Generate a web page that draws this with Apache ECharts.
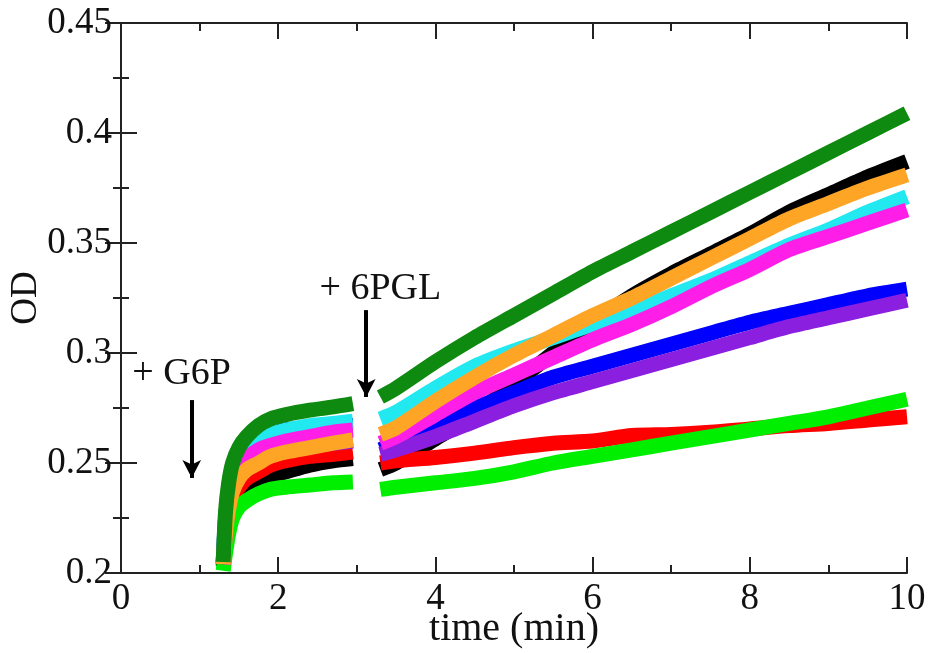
<!DOCTYPE html>
<html>
<head>
<meta charset="utf-8">
<script src="https://cdn.jsdelivr.net/npm/echarts@6/dist/echarts.min.js"></script>
<style>
html,body{margin:0;padding:0;background:#fff;}
#chart{width:930px;height:653px;}
</style>
</head>
<body>
<div id="chart"></div>
<script>
// ---- data ----
const seg1Time = [1.3, 1.33, 1.37, 1.42, 1.5, 1.6, 1.75, 1.9, 2.1, 2.4, 2.7, 2.95];
const seg2Time = [3.3, 3.5, 4.0, 4.5, 5.0, 5.5, 6.0, 6.5, 7.0, 7.5, 8.0, 8.5, 9.0, 9.5, 10.0];

const blackSeg1   = [0.203, 0.214, 0.224, 0.231, 0.236, 0.239, 0.242, 0.244, 0.246, 0.249, 0.251, 0.252];
const blackSeg2   = [0.247, 0.250, 0.261, 0.272, 0.286, 0.300, 0.314, 0.326, 0.336, 0.345, 0.354, 0.364, 0.372, 0.380, 0.387];
const redSeg1     = [0.204, 0.216, 0.226, 0.234, 0.239, 0.243, 0.246, 0.249, 0.251, 0.253, 0.254, 0.255];
const redSeg2     = [0.250, 0.251, 0.2525, 0.2545, 0.257, 0.259, 0.260, 0.2625, 0.263, 0.264, 0.2655, 0.267, 0.268, 0.2695, 0.271];
const greenSeg1   = [0.201, 0.209, 0.218, 0.225, 0.230, 0.233, 0.236, 0.238, 0.239, 0.240, 0.241, 0.2414];
const greenSeg2   = [0.238, 0.239, 0.241, 0.243, 0.246, 0.250, 0.253, 0.256, 0.259, 0.262, 0.265, 0.268, 0.271, 0.275, 0.279];
const blueSeg1    = [0.205, 0.225, 0.237, 0.246, 0.253, 0.257, 0.261, 0.263, 0.265, 0.266, 0.267, 0.267];
const blueSeg2    = [0.256, 0.259, 0.267, 0.275, 0.282, 0.289, 0.294, 0.299, 0.304, 0.309, 0.314, 0.318, 0.322, 0.326, 0.329];
const violetSeg1  = [0.204, 0.219, 0.230, 0.239, 0.245, 0.249, 0.252, 0.254, 0.256, 0.258, 0.259, 0.260];
const violetSeg2  = [0.254, 0.256, 0.262, 0.269, 0.276, 0.282, 0.287, 0.292, 0.297, 0.302, 0.307, 0.312, 0.316, 0.320, 0.324];
const cyanSeg1    = [0.205, 0.224, 0.236, 0.245, 0.252, 0.256, 0.260, 0.263, 0.265, 0.267, 0.268, 0.269];
const cyanSeg2    = [0.270, 0.273, 0.284, 0.294, 0.301, 0.307, 0.313, 0.319, 0.326, 0.333, 0.341, 0.349, 0.356, 0.364, 0.371];
const magentaSeg1 = [0.204, 0.221, 0.232, 0.241, 0.248, 0.252, 0.256, 0.258, 0.260, 0.262, 0.264, 0.265];
const magentaSeg2 = [0.259, 0.262, 0.272, 0.282, 0.290, 0.298, 0.306, 0.313, 0.321, 0.330, 0.338, 0.347, 0.353, 0.359, 0.365];
const orangeSeg1  = [0.204, 0.218, 0.229, 0.237, 0.243, 0.247, 0.250, 0.253, 0.255, 0.257, 0.259, 0.2605];
const orangeSeg2  = [0.263, 0.266, 0.278, 0.289, 0.299, 0.308, 0.317, 0.325, 0.334, 0.343, 0.352, 0.361, 0.368, 0.375, 0.381];
const green4Seg1  = [0.205, 0.228, 0.241, 0.250, 0.257, 0.262, 0.267, 0.270, 0.272, 0.274, 0.2755, 0.277];
const green4Seg2  = [0.280, 0.284, 0.296, 0.307, 0.317, 0.327, 0.337, 0.346, 0.355, 0.364, 0.373, 0.382, 0.391, 0.400, 0.409];

const xTicks = [0, 2, 4, 6, 8, 10];
const yTicks = [0.2, 0.25, 0.3, 0.35, 0.4, 0.45];

// annotations: [label, x of arrow, arrow top, arrow tip, label x, label y]
const annotG6P  = ['+ G6P', 0.9, 0.2786, 0.2432, 0.77, 0.2905];
const annot6PGL = ['+ 6PGL', 3.12, 0.3195, 0.2800, 3.30, 0.329];

// ---- styling ----
const seriesList = [
  {name: 'black',   color: '#000000', s1: blackSeg1,   s2: blackSeg2},
  {name: 'red',     color: '#ff0000', s1: redSeg1,     s2: redSeg2},
  {name: 'green',   color: '#00ee00', s1: greenSeg1,   s2: greenSeg2},
  {name: 'blue',    color: '#0000ff', s1: blueSeg1,    s2: blueSeg2},
  {name: 'violet',  color: '#8a1fe0', s1: violetSeg1,  s2: violetSeg2},
  {name: 'cyan',    color: '#22e8f0', s1: cyanSeg1,    s2: cyanSeg2},
  {name: 'magenta', color: '#ff1ee8', s1: magentaSeg1, s2: magentaSeg2},
  {name: 'orange',  color: '#ffa526', s1: orangeSeg1,  s2: orangeSeg2},
  {name: 'green4',  color: '#0f8a10', s1: green4Seg1,  s2: green4Seg2}
];

const FONT = 'Liberation Serif';
const FS = 37;

function pairs(t, v) { return t.map((x, i) => [x, v[i]]); }

const series = [];
seriesList.forEach(s => {
  [pairs(seg1Time, s.s1), pairs(seg2Time, s.s2)].forEach(d => {
    series.push({
      type: 'line', name: s.name, data: d, showSymbol: false, symbol: 'none',
      smooth: 0.25,
      lineStyle: {color: s.color, width: 15, cap: 'butt', join: 'round'},
      itemStyle: {color: s.color},
      silent: true, animation: false
    });
  });
});

function annotSeries(a) {
  return {
    type: 'line', data: [], silent: true, animation: false,
    markLine: {
      silent: true, animation: false,
      symbol: ['none', 'arrow'], symbolSize: [14, 18],
      lineStyle: {color: '#000', width: 4, type: 'solid'},
      label: {show: false},
      data: [[{coord: [a[1], a[2]]}, {coord: [a[1], a[3]]}]]
    },
    markPoint: {
      silent: true, animation: false,
      symbol: 'circle', symbolSize: 0,
      label: {show: true, position: 'inside', formatter: a[0],
              fontFamily: FONT, fontSize: 38, color: '#111'},
      data: [{coord: [a[4], a[5]]}]
    }
  };
}
series.push(annotSeries(annotG6P));
series.push(annotSeries(annot6PGL));

const axisLineStyle = {lineStyle: {color: '#222', width: 2}};
const tickStyle = {inside: true, length: 16, lineStyle: {color: '#222', width: 2}};
const minorStyle = {show: true, splitNumber: 2, length: 8, lineStyle: {color: '#222', width: 2}};

const option = {
  backgroundColor: '#fff',
  animation: false,
  grid: {left: 121, right: 23, top: 23, bottom: 80, containLabel: false, outerBoundsMode: 'none'},
  xAxis: [
    {type: 'value', min: xTicks[0], max: xTicks[xTicks.length - 1], interval: 2,
     position: 'bottom',
     name: 'time (min)', nameLocation: 'middle', nameGap: 36, nameMoveOverlap: false,
     nameTextStyle: {fontFamily: FONT, fontSize: 40, color: '#111'},
     axisLine: axisLineStyle, axisTick: tickStyle, minorTick: minorStyle,
     splitLine: {show: false},
     axisLabel: {fontFamily: FONT, fontSize: FS, color: '#111', margin: 8}},
    {type: 'value', min: xTicks[0], max: xTicks[xTicks.length - 1], interval: 2,
     position: 'top',
     axisLine: axisLineStyle, axisTick: tickStyle, minorTick: minorStyle,
     splitLine: {show: false}, axisLabel: {show: false}}
  ],
  yAxis: [
    {type: 'value', min: yTicks[0], max: yTicks[yTicks.length - 1], interval: 0.05,
     position: 'left',
     name: 'OD', nameLocation: 'middle', nameGap: 76, nameRotate: 90, nameMoveOverlap: false,
     nameTextStyle: {fontFamily: FONT, fontSize: FS, color: '#111'},
     axisLine: axisLineStyle, axisTick: tickStyle, minorTick: minorStyle,
     splitLine: {show: false},
     axisLabel: {fontFamily: FONT, fontSize: FS, color: '#111', margin: 9,
                 formatter: v => String(+v.toFixed(2))}},
    {type: 'value', min: yTicks[0], max: yTicks[yTicks.length - 1], interval: 0.05,
     position: 'right',
     axisLine: axisLineStyle, axisTick: tickStyle, minorTick: minorStyle,
     splitLine: {show: false}, axisLabel: {show: false}}
  ],
  series: series
};

const chart = echarts.init(document.getElementById('chart'), null, {renderer: 'canvas'});
chart.setOption(option);
</script>
</body>
</html>
